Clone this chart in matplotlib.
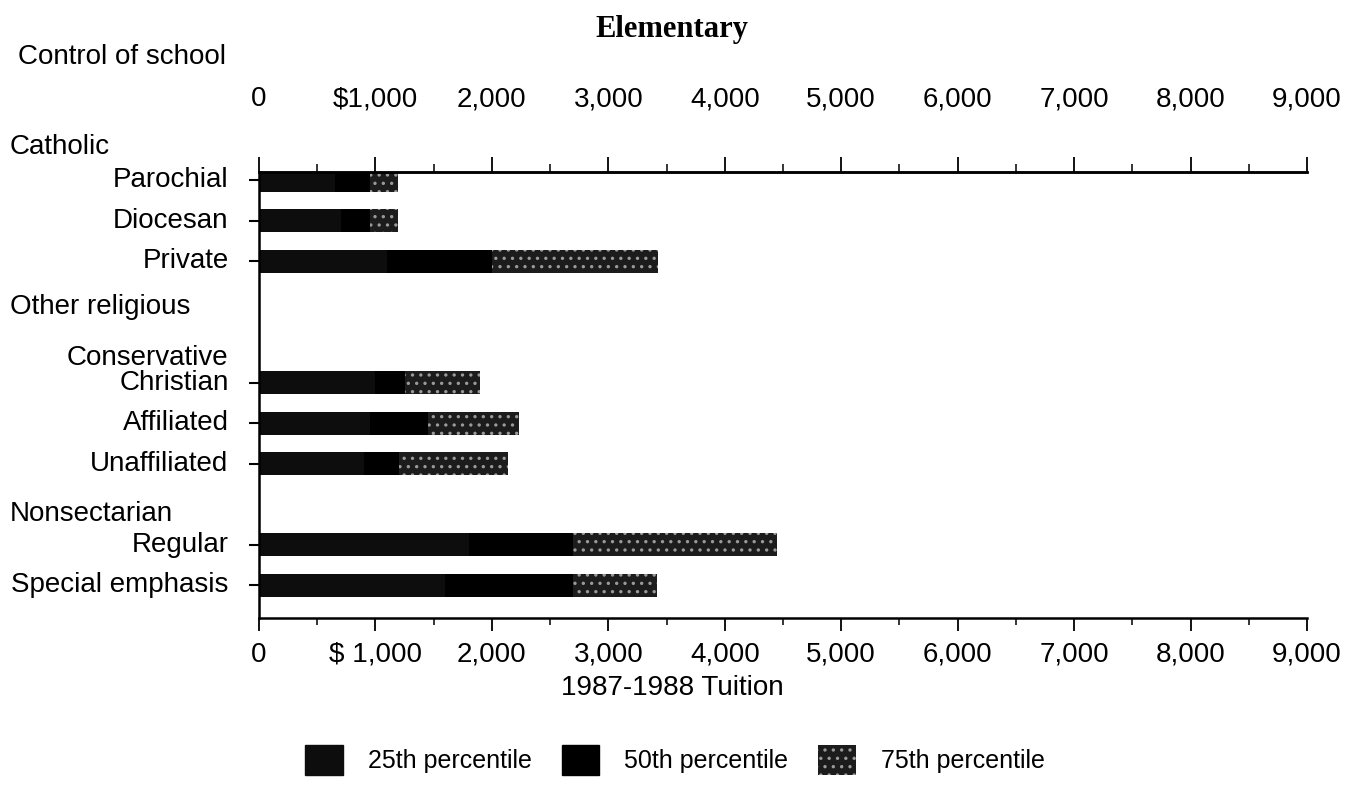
import numpy as np
import matplotlib
matplotlib.use('Agg')
import matplotlib.pyplot as plt
from matplotlib.ticker import MultipleLocator, FuncFormatter
from matplotlib.patches import Patch

plt.rcParams['font.family'] = ['Liberation Sans', 'DejaVu Sans']
plt.rcParams['hatch.linewidth'] = 1.2

# data (tuition in dollars)
categories = ['Parochial', 'Diocesan', 'Private',
              'Conservative\nChristian', 'Affiliated', 'Unaffiliated',
              'Regular', 'Special emphasis']
groups = ['Catholic', 'Other religious', 'Nonsectarian']
p25 = [650, 700, 1100, 1000, 950, 900, 1800, 1600]
p50 = [950, 950, 2000, 1250, 1450, 1200, 2700, 2700]
p75 = [1190, 1190, 3430, 1900, 2230, 2140, 4450, 3420]
xticks = [0, 1000, 2000, 3000, 4000, 5000, 6000, 7000, 8000, 9000]

# layout slots
ypos = np.array([0, 1, 2, 5, 6, 7, 9, 10])
group_pos = [-0.81, 3.14, 8.25]

fs = 20
fig = plt.figure(figsize=(13.52, 7.90), dpi=100)
ax = fig.add_axes([259/1352, 1-618/790, (1307-259)/1352, (618-172)/790])

p25 = np.array(p25); p50 = np.array(p50); p75 = np.array(p75)
h = 0.57
ax.barh(ypos, p25, height=h, color='#0d0d0d', edgecolor='#0d0d0d', lw=0)
ax.barh(ypos, p50-p25, left=p25, height=h, color='black', lw=0)
ax.barh(ypos, p75-p50, left=p50, height=h, color='#1c1c1c', edgecolor='#9a9a9a',
        hatch='..', lw=0)

ax.set_xlim(0, 9000)
ax.set_ylim(10.81, -0.2)

ax.spines['right'].set_visible(False)
for s in ['left', 'top', 'bottom']:
    ax.spines[s].set_linewidth(1.8)

def fmt_bottom(v, pos):
    if v == 1000:
        return '$ 1,000'
    return '{:,.0f}'.format(v)

def fmt_top(v, pos):
    if v == 1000:
        return '$1,000'
    return '{:,.0f}'.format(v)

ax.set_xticks(xticks)
ax.xaxis.set_minor_locator(MultipleLocator(500))
ax.xaxis.set_major_formatter(FuncFormatter(fmt_bottom))
ax.tick_params(axis='x', which='major', length=9, width=1.3, labelsize=fs, pad=8)
ax.tick_params(axis='x', which='minor', length=5, width=1.1)

ax.set_yticks(ypos)
ax.set_yticklabels([])
ax.tick_params(axis='y', length=7, width=1.5)

top = ax.twiny()
top.set_xlim(ax.get_xlim())
top.set_xticks(xticks)
top.xaxis.set_minor_locator(MultipleLocator(500))
top.xaxis.set_major_formatter(FuncFormatter(fmt_top))
top.tick_params(axis='x', which='major', length=11, width=1.3, labelsize=fs, pad=32)
top.tick_params(axis='x', which='minor', length=6, width=1.1)
for s in ['right', 'left', 'bottom']:
    top.spines[s].set_visible(False)
top.spines['top'].set_linewidth(1.8)

# category labels
for y, c in zip(ypos, categories):
    lines = c.split('\n')
    for k, line in enumerate(reversed(lines)):
        ax.text(-0.029, y - k*0.62, line, transform=ax.get_yaxis_transform(),
                ha='right', va='center', fontsize=fs, clip_on=False)

for y, g in zip(group_pos, groups):
    ax.text(-0.238, y, g, transform=ax.get_yaxis_transform(),
            ha='left', va='center', fontsize=fs, clip_on=False)

fig.text(18/1352, 1-57/790, 'Control of school', ha='left', va='center', fontsize=fs)
fig.text(672/1352, 1-30/790, 'Elementary', ha='center', va='center', fontsize=22,
         fontweight='bold', family=['Liberation Serif', 'DejaVu Serif'])
fig.text(672/1352, 1-688/790, '1987-1988 Tuition', ha='center', va='center', fontsize=fs)

handles = [Patch(facecolor='#0d0d0d', edgecolor='#0d0d0d'),
           Patch(facecolor='black', edgecolor='black'),
           Patch(facecolor='#1c1c1c', edgecolor='#9a9a9a', hatch='..', lw=0)]
fig.legend(handles, ['25th percentile', '50th percentile', '75th percentile'],
           loc='center', bbox_to_anchor=(675/1352, 1-760/790), ncol=3, frameon=False,
           fontsize=18, handlelength=1.5, handleheight=1.5, handletextpad=1.0,
           columnspacing=1.2)

fig.savefig('out.png', dpi=100)
